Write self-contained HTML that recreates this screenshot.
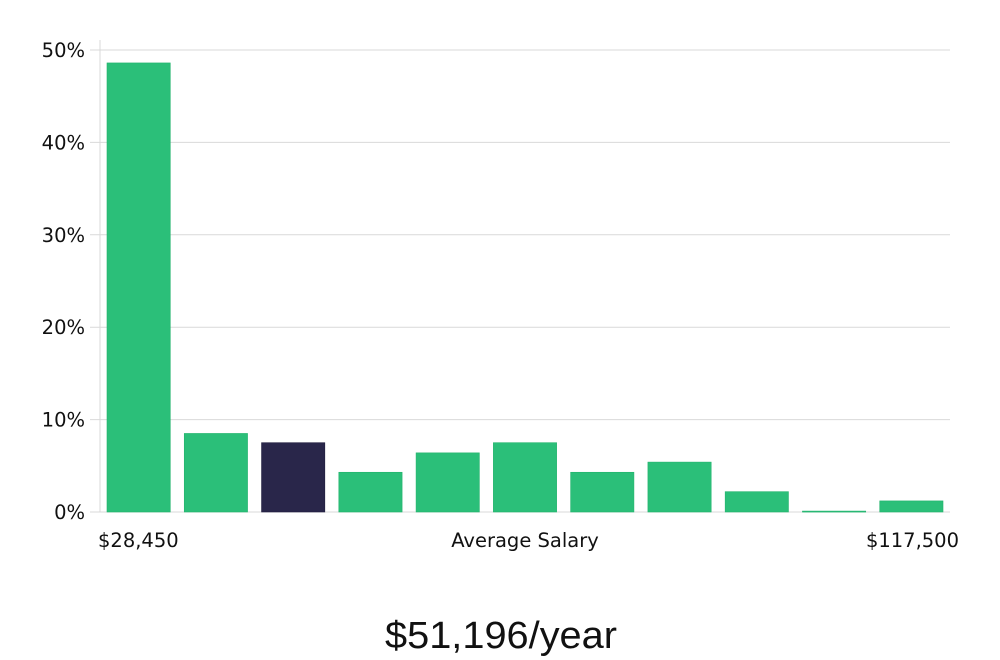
<!DOCTYPE html>
<html><head><meta charset="utf-8"><style>
body{margin:0;background:#fff;width:1000px;height:660px;overflow:hidden;font-family:"DejaVu Sans","Liberation Sans",sans-serif;}
svg{display:block}
</style></head><body>
<svg id="chart" width="1000" height="660">
<g id="grid"></g>
<g id="bars"></g>
<g id="yaxis"></g>
<text x="98" y="547" font-size="19.5" fill="#111">$28,450</text>
<text x="525" y="547" font-size="19.5" fill="#111" text-anchor="middle">Average Salary</text>
<text x="959" y="547" font-size="19.5" fill="#111" text-anchor="end">$117,500</text>
<text x="501" y="648" font-size="38" fill="#111" text-anchor="middle" textLength="232" lengthAdjust="spacingAndGlyphs" font-family="Liberation Sans, sans-serif" font-weight="300">$51,196/year</text>
</svg>
<script>
const values=[48.6,8.5,7.5,4.3,6.4,7.5,4.3,5.4,2.2,0.1,1.2];
const highlight=[false,false,true,false,false,false,false,false,false,false,false];
const yTicks=[0,10,20,30,40,50];
const yTickLabels=["0%","10%","20%","30%","40%","50%"];
const NS="http://www.w3.org/2000/svg";
const x0=100,x1=950,yBase=512,yTop=50;
const y=v=>yBase-(v/50)*(yBase-yTop);
const step=(x1-x0)/values.length;
const grid=document.getElementById('grid'),yaxis=document.getElementById('yaxis'),bars=document.getElementById('bars');
yTicks.forEach((t,i)=>{
  const l=document.createElementNS(NS,'line');
  
  
  l.setAttribute('x1',90);l.setAttribute('x2',x1);l.setAttribute('y1',y(t));l.setAttribute('y2',y(t));
  l.setAttribute('stroke','#d9d9d9');l.setAttribute('stroke-width','1');
  grid.appendChild(l);
  const tx=document.createElementNS(NS,'text');
  
  
  tx.setAttribute('x',85);tx.setAttribute('y',y(t)+7);tx.setAttribute('text-anchor','end');
  tx.setAttribute('font-size','19.5');tx.setAttribute('fill','#111');
  tx.textContent=yTickLabels[i];
  yaxis.appendChild(tx);
});
const ax=document.createElementNS(NS,'line');


ax.setAttribute('x1',x0);ax.setAttribute('x2',x0);ax.setAttribute('y1',40);ax.setAttribute('y2',yBase);
ax.setAttribute('stroke','#d9d9d9');
yaxis.appendChild(ax);
values.forEach((v,i)=>{
  const r=document.createElementNS(NS,'rect');
  
  
  const bx=x0+i*step+7;
  r.setAttribute('x',bx);r.setAttribute('width',step-14);
  r.setAttribute('y',y(v));r.setAttribute('height',Math.max(1,yBase-y(v)));
  r.setAttribute('fill',highlight[i]?'#29264a':'#2bbf79');
  r.setAttribute('stroke',highlight[i]?'#1f1c3d':'#22b36c');
  r.setAttribute('stroke-width','0.6');
  bars.appendChild(r);
});
</script>
</body></html>
